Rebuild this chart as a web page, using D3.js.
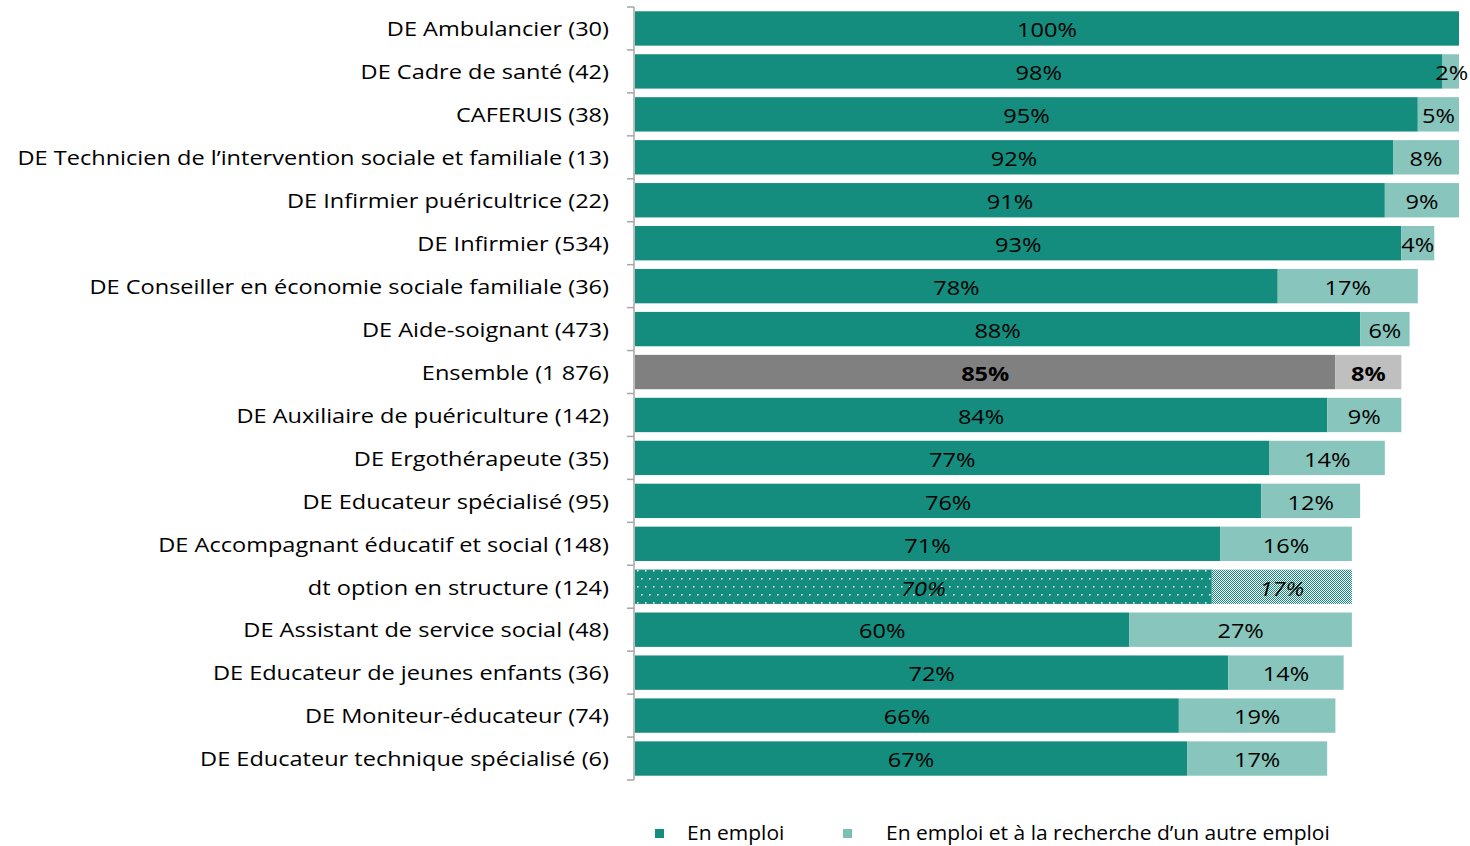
<!DOCTYPE html>
<html><head><meta charset="utf-8">
<script src="https://cdn.jsdelivr.net/npm/d3@7"></script>
<style>body{margin:0;background:#fff;} svg{display:block;font-family:"Open Sans", Lato, sans-serif;}</style>
</head><body>
<svg id="c" width="1470" height="846"></svg>
<script>
const categories = [
  "DE Ambulancier (30)",
  "DE Cadre de santé (42)",
  "CAFERUIS (38)",
  "DE Technicien de l’intervention sociale et familiale (13)",
  "DE Infirmier puéricultrice (22)",
  "DE Infirmier (534)",
  "DE Conseiller en économie sociale familiale (36)",
  "DE Aide-soignant (473)",
  "Ensemble (1 876)",
  "DE Auxiliaire de puériculture (142)",
  "DE Ergothérapeute (35)",
  "DE Educateur spécialisé (95)",
  "DE Accompagnant éducatif et social (148)",
  "dt option en structure (124)",
  "DE Assistant de service social (48)",
  "DE Educateur de jeunes enfants (36)",
  "DE Moniteur-éducateur (74)",
  "DE Educateur technique spécialisé (6)"
];
const enEmploi = [100, 98, 95, 92, 91, 93, 78, 88, 85, 84, 77, 76, 71, 70, 60, 72, 66, 67];
const enRecherche = [0, 2, 5, 8, 9, 4, 17, 6, 8, 9, 14, 12, 16, 17, 27, 14, 19, 17];
const seriesNames = ["En emploi", "En emploi et à la recherche d’un autre emploi"];
const totalRow = "Ensemble (1 876)";
const subRow = "dt option en structure (124)";

const svg = d3.select("#c");
const C1 = "#148C7E", C2 = "#88C5BC", G1 = "#808080", G2 = "#BFBFBF";
const FS = 20;
const x = d3.scaleLinear().domain([0, 100]).range([635, 1459]);
const y = d3.scaleBand().domain(categories).range([7, 780]).paddingInner(0.2).paddingOuter(0.1);

function measure(t) {
  const p = svg.append("text").attr("font-size", FS).text(t);
  const w = p.node().getComputedTextLength(); p.remove(); return w;
}
const SX = 592 / measure(categories[3]);
const SXL = 444 / measure(seriesNames[1]);

const defs = svg.append("defs");
const p1 = defs.append("pattern").attr("id","dots").attr("patternUnits","userSpaceOnUse").attr("width",8).attr("height",16);
p1.append("rect").attr("width",8).attr("height",16).attr("fill",C1);
p1.append("rect").attr("x",1).attr("y",2).attr("width",1.5).attr("height",1.5).attr("fill","#fff");
p1.append("rect").attr("x",5).attr("y",10).attr("width",1.5).attr("height",1.5).attr("fill","#fff");
const p2 = defs.append("pattern").attr("id","check").attr("patternUnits","userSpaceOnUse").attr("width",2).attr("height",2);
p2.append("rect").attr("width",2).attr("height",2).attr("fill","#fff");
p2.append("rect").attr("x",0).attr("y",0).attr("width",1).attr("height",1).attr("fill",C1);
p2.append("rect").attr("x",1).attr("y",1).attr("width",1).attr("height",1).attr("fill",C1);

const rows = categories.map((c,i)=>({c, a: enEmploi[i], b: enRecherche[i]}));
const g = svg.append("g");
const fill1 = d => d.c===totalRow ? G1 : d.c===subRow ? "url(#dots)" : C1;
const fill2 = d => d.c===totalRow ? G2 : d.c===subRow ? "url(#check)" : C2;

g.selectAll("rect.a").data(rows).join("rect").attr("class","a")
  .attr("x", x(0)).attr("y", d=>y(d.c)).attr("width", d=>x(d.a)-x(0)).attr("height", y.bandwidth()).attr("fill", fill1);
g.selectAll("rect.b").data(rows.filter(d=>d.b>0)).join("rect").attr("class","b")
  .attr("x", d=>x(d.a)).attr("y", d=>y(d.c)).attr("width", d=>x(d.a+d.b)-x(d.a)).attr("height", y.bandwidth()).attr("fill", fill2);

function placeText(sel, px, py, anchor, sx) {
  sel.attr("x", 0).attr("y", 0)
    .attr("transform", d => `translate(${px(d)},${py(d)}) scale(${sx},1)`)
    .attr("text-anchor", anchor).attr("dominant-baseline","central")
    .attr("font-size", FS).attr("fill","#000");
}
const styl = sel => sel.attr("font-weight", d=>d.c===totalRow?"bold":null)
  .attr("font-style", d=>d.c===subRow?"italic":null);

g.selectAll("text.a").data(rows).join("text").attr("class","a").text(d=>d.a+"%")
  .call(placeText, d=>(x(0)+x(d.a))/2, d=>y(d.c)+y.bandwidth()/2+1, "middle", SX).call(styl);
g.selectAll("text.b").data(rows.filter(d=>d.b>0)).join("text").attr("class","b").text(d=>d.b+"%")
  .call(placeText, d=>(x(d.a)+x(d.a+d.b))/2 + (d.b<3?1:0), d=>y(d.c)+y.bandwidth()/2+1, "middle", SX).call(styl);

// axis
const ax = svg.append("g").attr("transform","translate(634,0)");
ax.append("line").attr("x1",0).attr("x2",0).attr("y1",7).attr("y2",780).attr("stroke","#A6A6A6").attr("stroke-width",1.5);
const bounds = d3.range(categories.length+1).map(i=>7 + i*(773/categories.length));
ax.selectAll("line.t").data(bounds).join("line").attr("class","t")
  .attr("x1",-7).attr("x2",0).attr("y1",d=>d).attr("y2",d=>d).attr("stroke","#A6A6A6").attr("stroke-width",1.5);
svg.append("g").selectAll("text").data(categories).join("text").text(d=>d)
  .call(placeText, ()=>609, d=>y(d)+y.bandwidth()/2, "end", SX);

// legend
const leg = svg.append("g");
const lx = [655, 843], tx = [687, 886], lc = [C1, "#7BC0B5"];
seriesNames.forEach((n,i)=>{
  leg.append("rect").attr("x",lx[i]).attr("y",829).attr("width",9).attr("height",9).attr("fill",lc[i]);
  leg.append("text").datum(n).text(n).call(placeText, ()=>tx[i], ()=>832, "start", SXL);
});
</script>
</body></html>
